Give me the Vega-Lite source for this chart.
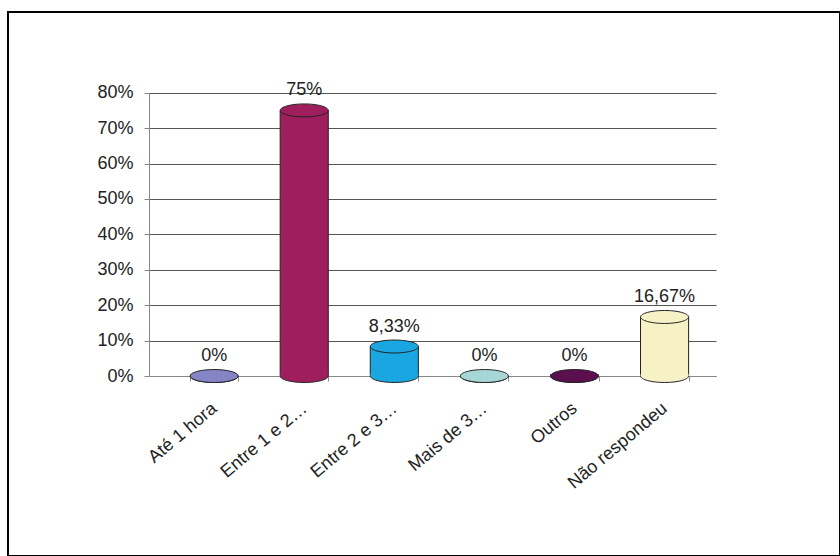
{
  "$schema": "https://vega.github.io/schema/vega-lite/v6.json",
  "width": 832,
  "height": 544,
  "autosize": {"type": "none"},
  "padding": {"left": 8, "top": 12, "right": 0, "bottom": 0},
  "background": "white",
  "config": {
    "view": {"stroke": "#000000", "strokeWidth": 2},
    "font": "Liberation Sans",
    "locale": {"number": {"decimal": ",", "thousands": ".", "grouping": [3], "currency": ["R$", ""]}}
  },
  "data": {
    "values": [
      {"categoria": "Até 1 hora", "pct": 0},
      {"categoria": "Entre 1 e 2…", "pct": 0.75},
      {"categoria": "Entre 2 e 3…", "pct": 0.0833},
      {"categoria": "Mais de 3…", "pct": 0},
      {"categoria": "Outros", "pct": 0},
      {"categoria": "Não respondeu", "pct": 0.1667}
    ]
  },
  "encoding": {
    "x": {
      "field": "categoria",
      "type": "nominal",
      "sort": null,
      "scale": {"range": [141, 708], "paddingInner": 0.466, "paddingOuter": 0.38, "align": 0.6},
      "axis": {
        "title": null,
        "orient": "bottom",
        "offset": -180,
        "labelAngle": -40,
        "labelAlign": "right",
        "labelBaseline": "middle",
        "labelPadding": 25,
        "labelFontSize": 18,
        "labelColor": "#222222",
        "labelLimit": 0,
        "domainColor": "#888888",
        "tickColor": "#888888",
        "tickSize": 5,
        "tickBand": "extent",
        "grid": false
      }
    },
    "y": {
      "field": "pct",
      "type": "quantitative",
      "scale": {"domain": [0, 0.8], "range": [364, 80.7], "nice": false},
      "axis": {
        "title": null,
        "values": [0, 0.1, 0.2, 0.3, 0.4, 0.5, 0.6, 0.7, 0.8],
        "format": ".0%",
        "offset": -141,
        "labelFontSize": 18,
        "labelColor": "#222222",
        "labelPadding": 11,
        "domainColor": "#888888",
        "tickColor": "#888888",
        "tickSize": 5,
        "grid": true,
        "gridColor": "#555555",
        "gridWidth": 1
      }
    }
  },
  "layer": [
    {
      "mark": {"type": "bar", "stroke": "#222222", "strokeWidth": 1},
      "encoding": {
        "color": {
          "field": "categoria", "type": "nominal", "sort": null, "legend": null,
          "scale": {
            "domain": ["Até 1 hora", "Entre 1 e 2…", "Entre 2 e 3…", "Mais de 3…", "Outros", "Não respondeu"],
            "range": ["#8585c5", "#9e1e5e", "#1aa6e0", "#a6d6d6", "#5c0f4e", "#f6f2c6"]
          }
        }
      }
    },
    {
      "mark": {"type": "point", "shape": "M-1,-0.08L-1,0A1,0.27 0 0 0 1,0L1,-0.08Z", "size": 2304, "filled": true, "opacity": 1, "strokeWidth": 0},
      "encoding": {
        "y": {"datum": 0},
        "color": {"field": "categoria", "type": "nominal", "sort": null, "legend": null}
      }
    },
    {
      "mark": {"type": "point", "shape": "M-1,0A1,0.27 0 0 0 1,0", "size": 2304, "filled": false, "opacity": 1, "stroke": "#222222", "strokeWidth": 1},
      "encoding": {"y": {"datum": 0}}
    },
    {
      "mark": {"type": "point", "shape": "M-1,0A1,0.27 0 0 1 1,0A1,0.27 0 0 1 -1,0Z", "size": 2304, "filled": true, "opacity": 1, "stroke": "#222222", "strokeWidth": 1},
      "encoding": {
        "color": {"field": "categoria", "type": "nominal", "sort": null, "legend": null}
      }
    },
    {
      "mark": {"type": "text", "baseline": "bottom", "dy": -11, "fontSize": 18, "color": "#222222"},
      "encoding": {"text": {"field": "pct", "type": "quantitative", "format": ".2~%"}}
    }
  ]
}
